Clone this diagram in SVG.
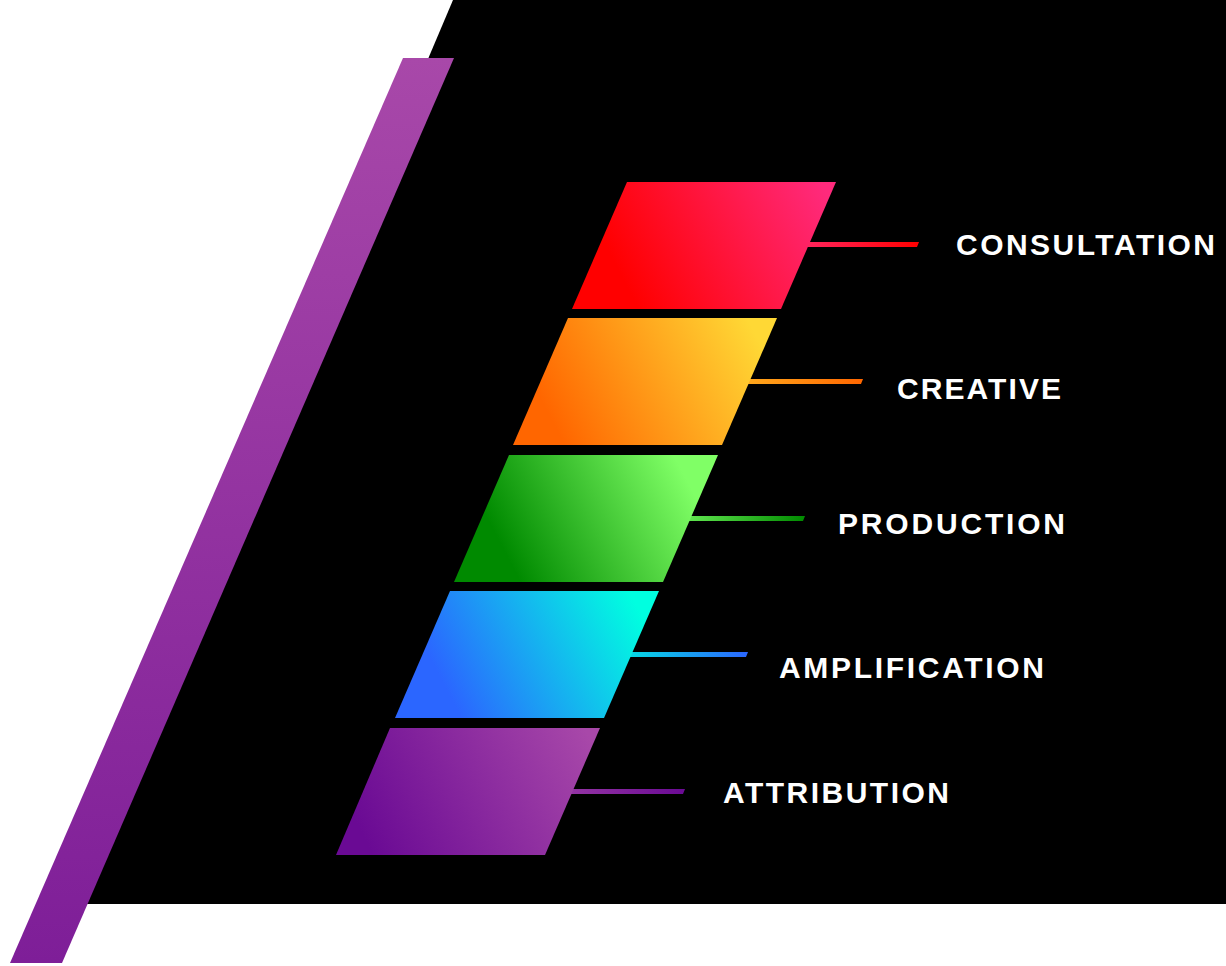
<svg xmlns="http://www.w3.org/2000/svg" width="1226" height="966" viewBox="0 0 1226 966">
<defs>
<linearGradient id="gBar" x1="0" y1="0" x2="0" y2="1"><stop offset="0" stop-color="#a848a9"/><stop offset="1" stop-color="#7e1e98"/></linearGradient>
<linearGradient id="gRed" gradientUnits="userSpaceOnUse" x1="590" y1="300" x2="820" y2="180"><stop offset="0.15" stop-color="#ff0000"/><stop offset="1" stop-color="#ff2a7c"/></linearGradient>
<linearGradient id="gOrange" gradientUnits="userSpaceOnUse" x1="531" y1="436.5" x2="761" y2="316.5"><stop offset="0.1" stop-color="#ff6600"/><stop offset="0.95" stop-color="#ffd835"/></linearGradient>
<linearGradient id="gGreen" gradientUnits="userSpaceOnUse" x1="472" y1="573" x2="702" y2="453"><stop offset="0.15" stop-color="#008a00"/><stop offset="0.9" stop-color="#80ff66"/></linearGradient>
<linearGradient id="gCyan" gradientUnits="userSpaceOnUse" x1="413" y1="709.5" x2="643" y2="589.5"><stop offset="0.15" stop-color="#2b66ff"/><stop offset="0.95" stop-color="#00ffe0"/></linearGradient>
<linearGradient id="gPurple" gradientUnits="userSpaceOnUse" x1="354" y1="846" x2="584" y2="726"><stop offset="0.05" stop-color="#6a0a94"/><stop offset="1" stop-color="#a848a9"/></linearGradient>
<linearGradient id="lRed" x1="0" y1="0" x2="1" y2="0"><stop offset="0" stop-color="#ff2a6a"/><stop offset="1" stop-color="#ff0000"/></linearGradient>
<linearGradient id="lOrange" x1="0" y1="0" x2="1" y2="0"><stop offset="0" stop-color="#ffb020"/><stop offset="1" stop-color="#ff6600"/></linearGradient>
<linearGradient id="lGreen" x1="0" y1="0" x2="1" y2="0"><stop offset="0" stop-color="#6ef25a"/><stop offset="1" stop-color="#008a00"/></linearGradient>
<linearGradient id="lCyan" x1="0" y1="0" x2="1" y2="0"><stop offset="0" stop-color="#00e8e0"/><stop offset="1" stop-color="#2b66ff"/></linearGradient>
<linearGradient id="lPurple" x1="0" y1="0" x2="1" y2="0"><stop offset="0" stop-color="#9a3aa6"/><stop offset="1" stop-color="#6a0a94"/></linearGradient>
</defs>
<style>
.lbl{font-family:"Liberation Sans",Arial,sans-serif;font-weight:bold;font-size:30px;fill:#ffffff}
</style>
<rect width="1226" height="966" fill="#ffffff"/>
<polygon points="453,0 1226,0 1226,904 70,904" fill="#000000"/>
<polygon id="bar" points="403,58 454,58 62,963 10,963" fill="url(#gBar)"/>
<g id="connectors">
<polygon points="790,242 919,242 917,247 790,247" fill="url(#lRed)"/>
<polygon points="731,379 863,379 861,384 731,384" fill="url(#lOrange)"/>
<polygon points="672,516 805,516 803,521 672,521" fill="url(#lGreen)"/>
<polygon points="613,652 748,652 746,657 613,657" fill="url(#lCyan)"/>
<polygon points="554,789 685,789 683,794 554,794" fill="url(#lPurple)"/>
</g>
<g id="consultation">
<polygon points="627,182 836,182 781,309 572,309" fill="url(#gRed)"/>
<text class="lbl" x="956" y="255" textLength="259" lengthAdjust="spacing">CONSULTATION</text>
</g>
<g id="creative">
<polygon points="568,318 777,318 722,445 513,445" fill="url(#gOrange)"/>
<text class="lbl" x="897" y="399" textLength="164" lengthAdjust="spacing">CREATIVE</text>
</g>
<g id="production">
<polygon points="509,455 718,455 663,582 454,582" fill="url(#gGreen)"/>
<text class="lbl" x="838" y="534" textLength="227" lengthAdjust="spacing">PRODUCTION</text>
</g>
<g id="amplification">
<polygon points="450,591 659,591 604,718 395,718" fill="url(#gCyan)"/>
<text class="lbl" x="779" y="678" textLength="265" lengthAdjust="spacing">AMPLIFICATION</text>
</g>
<g id="attribution">
<polygon points="390,728 600,728 545,855 336,855" fill="url(#gPurple)"/>
<text class="lbl" x="723" y="803" textLength="226" lengthAdjust="spacing">ATTRIBUTION</text>
</g>
</svg>
